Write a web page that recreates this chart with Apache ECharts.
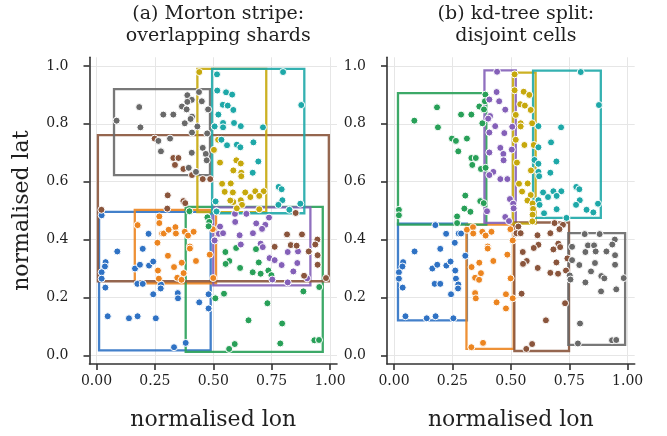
<!DOCTYPE html>
<html>
<head>
<meta charset="utf-8">
<script src="https://cdn.jsdelivr.net/npm/echarts@6/dist/echarts.min.js"></script>
<style>
  html, body { margin: 0; padding: 0; background: #ffffff; }
  #chart { width: 667px; height: 436px; }
</style>
</head>
<body>
<div id="chart"></div>
<script>
// ---- tick values ----
const lonTicks = [0, 0.25, 0.5, 0.75, 1];
const latTicks = [0, 0.2, 0.4, 0.6, 0.8, 1];

// ---- shard colours (same order in both panels) ----
const shardNames = ['blue', 'orange', 'green', 'purple', 'brown', 'gray', 'olive', 'cyan'];
const shardColors = ['#2f72c4', '#ec8520', '#28a058', '#8460b8', '#8a553c', '#696969', '#c6a80c', '#1ea8a8'];

// ---- panel (a): Morton stripe shards, points [lon, lat] ----
const mortonBlue = [[0.022,0.484],[0.223,0.420],[0.089,0.359],[0.198,0.368],[0.039,0.322],[0.036,0.307],[0.022,0.287],[0.022,0.265],[0.038,0.234],[0.165,0.300],[0.186,0.313],[0.225,0.310],[0.243,0.324],[0.276,0.245],[0.275,0.231],[0.175,0.247],[0.198,0.247],[0.243,0.211],[0.048,0.135],[0.139,0.128],[0.176,0.135],[0.254,0.128],[0.348,0.215],[0.349,0.197],[0.440,0.183],[0.480,0.211],[0.480,0.162],[0.332,0.028],[0.382,0.043]];
const mortonOrange = [[0.176,0.450],[0.269,0.480],[0.269,0.457],[0.281,0.421],[0.288,0.421],[0.309,0.434],[0.338,0.443],[0.340,0.421],[0.378,0.427],[0.392,0.414],[0.416,0.427],[0.261,0.389],[0.306,0.344],[0.400,0.376],[0.400,0.369],[0.485,0.348],[0.426,0.326],[0.365,0.320],[0.332,0.305],[0.373,0.284],[0.346,0.268],[0.364,0.261],[0.263,0.293],[0.267,0.265],[0.500,0.267],[0.508,0.398],[0.498,0.436]];
const mortonGreen = [[0.398,0.498],[0.475,0.477],[0.483,0.461],[0.480,0.446],[0.552,0.357],[0.598,0.371],[0.683,0.367],[0.569,0.326],[0.553,0.316],[0.615,0.302],[0.695,0.321],[0.669,0.287],[0.703,0.282],[0.736,0.293],[0.749,0.277],[0.509,0.197],[0.546,0.213],[0.732,0.180],[0.651,0.121],[0.886,0.221],[0.954,0.236],[0.795,0.110],[0.592,0.039],[0.568,0.022],[0.787,0.041],[0.933,0.052],[0.953,0.053]];
const mortonPurple = [[0.514,0.498],[0.593,0.489],[0.642,0.489],[0.739,0.476],[0.529,0.445],[0.594,0.461],[0.684,0.456],[0.723,0.451],[0.709,0.437],[0.524,0.420],[0.542,0.422],[0.613,0.415],[0.670,0.422],[0.506,0.397],[0.618,0.383],[0.703,0.386],[0.712,0.374],[0.819,0.357],[0.863,0.359],[0.741,0.336],[0.763,0.329],[0.793,0.312],[0.860,0.319],[0.843,0.290],[0.902,0.266],[0.753,0.262],[0.819,0.252]];
const mortonBrown = [[0.249,0.749],[0.329,0.682],[0.351,0.682],[0.336,0.658],[0.372,0.644],[0.409,0.623],[0.455,0.609],[0.487,0.609],[0.305,0.553],[0.372,0.533],[0.380,0.526],[0.303,0.507],[0.021,0.503],[0.853,0.492],[0.816,0.418],[0.880,0.418],[0.946,0.400],[0.832,0.381],[0.857,0.379],[0.937,0.383],[0.909,0.359],[0.947,0.346],[0.763,0.375],[0.947,0.313],[0.889,0.275],[0.983,0.267]];
const mortonGray = [[0.086,0.811],[0.183,0.858],[0.188,0.788],[0.286,0.832],[0.329,0.832],[0.366,0.860],[0.389,0.899],[0.408,0.883],[0.389,0.876],[0.386,0.850],[0.439,0.910],[0.451,0.878],[0.478,0.850],[0.409,0.825],[0.403,0.817],[0.378,0.802],[0.432,0.791],[0.409,0.770],[0.474,0.767],[0.265,0.741],[0.315,0.749],[0.276,0.705],[0.408,0.700],[0.455,0.717],[0.468,0.696],[0.472,0.674],[0.426,0.634],[0.395,0.648]];
const mortonOlive = [[0.440,0.979],[0.503,0.710],[0.521,0.745],[0.529,0.666],[0.599,0.674],[0.618,0.663],[0.586,0.639],[0.620,0.631],[0.620,0.619],[0.538,0.593],[0.575,0.594],[0.549,0.565],[0.584,0.563],[0.637,0.563],[0.680,0.567],[0.716,0.567],[0.697,0.551],[0.659,0.547],[0.618,0.536],[0.623,0.520],[0.586,0.530],[0.573,0.535],[0.511,0.530],[0.697,0.505],[0.601,0.508]];
const mortonCyan = [[0.516,0.971],[0.799,0.979],[0.517,0.915],[0.555,0.909],[0.581,0.901],[0.541,0.866],[0.562,0.863],[0.586,0.848],[0.877,0.865],[0.522,0.832],[0.542,0.803],[0.542,0.788],[0.589,0.803],[0.618,0.792],[0.713,0.788],[0.506,0.791],[0.535,0.745],[0.559,0.726],[0.601,0.728],[0.616,0.719],[0.672,0.736],[0.693,0.670],[0.669,0.631],[0.780,0.582],[0.793,0.574],[0.796,0.536],[0.779,0.520],[0.873,0.524],[0.826,0.503],[0.510,0.532],[0.514,0.497]];

// shard bounding boxes [lonMin, lonMax, latMin, latMax], shard order as shardNames
const mortonBoxes = [
  [0.011, 0.489, 0.017, 0.496],
  [0.164, 0.512, 0.249, 0.503],
  [0.382, 0.969, 0.012, 0.513],
  [0.500, 0.916, 0.242, 0.511],
  [0.006, 0.995, 0.256, 0.761],
  [0.075, 0.486, 0.623, 0.920],
  [0.432, 0.727, 0.495, 0.990],
  [0.495, 0.890, 0.491, 0.990]
];

// ---- panel (b): kd-tree cells, points [lon, lat] ----
const kdBlue = [[0.177,0.450],[0.223,0.420],[0.277,0.421],[0.287,0.421],[0.260,0.389],[0.088,0.359],[0.198,0.368],[0.305,0.344],[0.039,0.322],[0.036,0.307],[0.021,0.287],[0.021,0.265],[0.037,0.234],[0.164,0.300],[0.185,0.313],[0.224,0.310],[0.242,0.324],[0.262,0.293],[0.265,0.265],[0.275,0.245],[0.274,0.231],[0.174,0.247],[0.198,0.247],[0.244,0.211],[0.049,0.135],[0.140,0.128],[0.178,0.135],[0.254,0.128]];
const kdOrange = [[0.312,0.434],[0.338,0.443],[0.339,0.421],[0.378,0.427],[0.392,0.414],[0.417,0.427],[0.401,0.376],[0.401,0.369],[0.485,0.348],[0.425,0.326],[0.365,0.320],[0.332,0.305],[0.372,0.284],[0.347,0.268],[0.364,0.261],[0.499,0.266],[0.347,0.215],[0.350,0.197],[0.439,0.183],[0.479,0.211],[0.508,0.197],[0.479,0.162],[0.508,0.397],[0.498,0.436],[0.331,0.028],[0.381,0.043]];
const kdGreen = [[0.184,0.857],[0.087,0.811],[0.188,0.788],[0.287,0.832],[0.331,0.832],[0.365,0.860],[0.391,0.901],[0.389,0.878],[0.385,0.850],[0.378,0.802],[0.248,0.749],[0.265,0.741],[0.312,0.749],[0.275,0.705],[0.331,0.682],[0.350,0.682],[0.335,0.658],[0.372,0.644],[0.392,0.648],[0.305,0.552],[0.369,0.533],[0.384,0.526],[0.301,0.507],[0.327,0.496],[0.021,0.503],[0.021,0.484],[0.270,0.480],[0.270,0.457]];
const kdPurple = [[0.441,0.980],[0.439,0.910],[0.408,0.884],[0.450,0.878],[0.476,0.849],[0.411,0.827],[0.403,0.818],[0.433,0.792],[0.506,0.790],[0.408,0.770],[0.472,0.768],[0.455,0.717],[0.468,0.696],[0.469,0.674],[0.408,0.701],[0.425,0.634],[0.408,0.623],[0.455,0.609],[0.485,0.609],[0.496,0.540],[0.510,0.524],[0.512,0.508],[0.398,0.498],[0.476,0.478],[0.492,0.464],[0.504,0.711]];
const kdBrown = [[0.532,0.445],[0.524,0.422],[0.542,0.422],[0.614,0.415],[0.669,0.422],[0.687,0.457],[0.723,0.451],[0.708,0.436],[0.618,0.382],[0.598,0.371],[0.682,0.366],[0.703,0.386],[0.711,0.374],[0.551,0.357],[0.568,0.326],[0.552,0.316],[0.615,0.302],[0.695,0.321],[0.742,0.335],[0.669,0.285],[0.702,0.282],[0.736,0.293],[0.546,0.213],[0.732,0.180],[0.650,0.121],[0.591,0.039],[0.566,0.022]];
const kdGray = [[0.816,0.419],[0.880,0.419],[0.945,0.400],[0.830,0.380],[0.856,0.380],[0.934,0.383],[0.819,0.357],[0.863,0.359],[0.909,0.359],[0.946,0.346],[0.762,0.375],[0.762,0.329],[0.793,0.312],[0.860,0.319],[0.946,0.313],[0.843,0.290],[0.887,0.274],[0.900,0.266],[0.752,0.276],[0.755,0.262],[0.983,0.267],[0.819,0.252],[0.951,0.228],[0.886,0.221],[0.796,0.110],[0.787,0.041],[0.933,0.052],[0.951,0.053]];
const kdOlive = [[0.516,0.971],[0.516,0.916],[0.555,0.911],[0.579,0.900],[0.540,0.868],[0.560,0.863],[0.585,0.848],[0.521,0.831],[0.542,0.802],[0.542,0.791],[0.591,0.802],[0.521,0.745],[0.558,0.727],[0.598,0.727],[0.526,0.666],[0.586,0.639],[0.535,0.593],[0.572,0.594],[0.548,0.566],[0.585,0.554],[0.571,0.535],[0.593,0.525],[0.595,0.506],[0.593,0.486],[0.592,0.463]];
const kdCyan = [[0.799,0.979],[0.877,0.865],[0.618,0.792],[0.715,0.788],[0.672,0.736],[0.618,0.719],[0.601,0.675],[0.618,0.662],[0.695,0.670],[0.618,0.634],[0.621,0.619],[0.669,0.631],[0.780,0.582],[0.793,0.574],[0.638,0.563],[0.682,0.567],[0.716,0.567],[0.696,0.551],[0.659,0.547],[0.618,0.536],[0.623,0.520],[0.795,0.536],[0.779,0.520],[0.873,0.524],[0.696,0.505],[0.824,0.503],[0.853,0.494],[0.642,0.491],[0.738,0.475]];

const kdBoxes = [
  [0.017, 0.312, 0.121, 0.455],
  [0.310, 0.512, 0.022, 0.452],
  [0.017, 0.395, 0.452, 0.906],
  [0.387, 0.521, 0.458, 0.985],
  [0.515, 0.749, 0.015, 0.459],
  [0.746, 0.989, 0.036, 0.422],
  [0.509, 0.606, 0.455, 0.977],
  [0.595, 0.885, 0.475, 0.984]
];

const mortonPoints = [mortonBlue, mortonOrange, mortonGreen, mortonPurple, mortonBrown, mortonGray, mortonOlive, mortonCyan];
const kdPoints = [kdBlue, kdOrange, kdGreen, kdPurple, kdBrown, kdGray, kdOlive, kdCyan];

const FONT = 'DejaVu Serif';
const INK = '#1f1f1f';
const SPINE = '#333333';

function xAxisFor(gridIndex) {
  return {
    type: 'value', gridIndex: gridIndex, min: -0.03, max: 1.03,
    name: 'normalised lon', nameLocation: 'middle', nameGap: 45,
    nameTextStyle: { fontFamily: FONT, fontSize: 22, color: INK },
    axisLine: { show: true, onZero: false, lineStyle: { color: SPINE, width: 1.6 } },
    axisTick: { show: true, inside: false, length: 6, customValues: lonTicks, lineStyle: { color: SPINE, width: 1.6 } },
    axisLabel: { customValues: lonTicks, formatter: v => v.toFixed(2), margin: 10, fontFamily: FONT, fontSize: 14, color: INK },
    splitLine: { show: true, lineStyle: { color: '#e6e6e6', width: 1 } }
  };
}

function yAxisFor(gridIndex, withName) {
  return {
    type: 'value', gridIndex: gridIndex, min: -0.03, max: 1.03,
    name: withName ? 'normalised lat' : '', nameLocation: 'middle', nameGap: 56,
    nameTextStyle: { fontFamily: FONT, fontSize: 22, color: INK },
    axisLine: { show: true, onZero: false, lineStyle: { color: SPINE, width: 1.6 } },
    axisTick: { show: true, inside: false, length: 6, customValues: latTicks, lineStyle: { color: SPINE, width: 1.6 } },
    axisLabel: { customValues: latTicks, formatter: v => v.toFixed(1), margin: 21, fontFamily: FONT, fontSize: 14, color: INK },
    splitLine: { show: true, lineStyle: { color: '#e6e6e6', width: 1 } }
  };
}

function boxSeries(boxes, axisIndex) {
  return {
    type: 'custom', xAxisIndex: axisIndex, yAxisIndex: axisIndex,
    data: boxes, encode: { x: [0, 1], y: [2, 3] }, silent: true, z: 2, clip: false,
    renderItem: function (params, api) {
      const tl = api.coord([api.value(0), api.value(3)]);
      const br = api.coord([api.value(1), api.value(2)]);
      return {
        type: 'rect',
        shape: { x: tl[0], y: tl[1], width: br[0] - tl[0], height: br[1] - tl[1] },
        style: { fill: 'none', stroke: shardColors[params.dataIndex], lineWidth: 2.3, opacity: 0.9 }
      };
    }
  };
}

function pointSeries(groups, axisIndex) {
  return groups.map((pts, i) => ({
    type: 'scatter', name: shardNames[i], xAxisIndex: axisIndex, yAxisIndex: axisIndex,
    data: pts, symbol: 'circle', symbolSize: 7, silent: true, z: 3,
    itemStyle: { color: shardColors[i], borderColor: '#ffffff', borderWidth: 1, opacity: 1 }
  }));
}

const chart = echarts.init(document.getElementById('chart'), null, { renderer: 'canvas' });
chart.setOption({
  animation: false,
  backgroundColor: '#ffffff',
  title: [
    { text: '(a) Morton stripe:\noverlapping shards', left: 213.25, top: -2, textAlign: 'center',
      textStyle: { fontFamily: FONT, fontWeight: 'normal', fontSize: 19, lineHeight: 22, color: INK } },
    { text: '(b) kd-tree split:\ndisjoint cells', left: 510.85, top: -2, textAlign: 'center',
      textStyle: { fontFamily: FONT, fontWeight: 'normal', fontSize: 19, lineHeight: 22, color: INK } }
  ],
  grid: [
    { left: 89.5, top: 57.3, width: 247.5, height: 307 },
    { left: 387, top: 57.3, width: 247.7, height: 307 }
  ],
  xAxis: [xAxisFor(0), xAxisFor(1)],
  yAxis: [yAxisFor(0, true), yAxisFor(1, false)],
  series: [
    boxSeries(mortonBoxes, 0),
    boxSeries(kdBoxes, 1)
  ].concat(pointSeries(mortonPoints, 0), pointSeries(kdPoints, 1))
});
</script>
</body>
</html>
